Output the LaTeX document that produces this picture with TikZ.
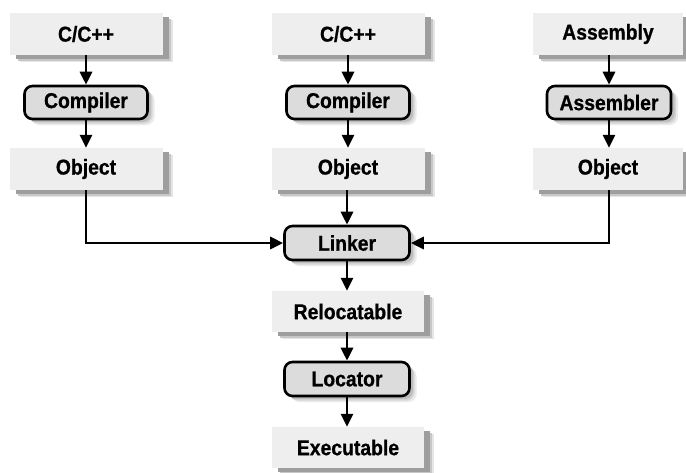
\documentclass[tikz,border=0pt]{standalone}
\usepackage{fontspec}
\newfontfamily\lblfont{Liberation Sans}[FakeStretch=0.9, BoldFeatures={FakeBold=0.8}]
\usetikzlibrary{arrows.meta,shadows}
\definecolor{boxfill}{HTML}{EEEEEE}
\definecolor{procfill}{HTML}{DCDCDC}
\tikzset{
  lbl/.style={font=\lblfont\bfseries\fontsize{21.5}{25}\selectfont, text=black},
  shad/.style={
    general shadow={fill=black!10, shadow xshift=10pt, shadow yshift=-7pt},
    general shadow={fill=black!22, shadow xshift=8pt, shadow yshift=-5.5pt},
    general shadow={fill=black!38, shadow xshift=6pt, shadow yshift=-4pt}},
  lshad/.style={
    general shadow={fill=black!8, shadow xshift=7pt, shadow yshift=-6pt},
    general shadow={fill=black!16, shadow xshift=5pt, shadow yshift=-4.5pt},
    general shadow={fill=black!26, shadow xshift=3.5pt, shadow yshift=-3pt}},
  databox/.style={lbl, shad, fill=boxfill, minimum width=153pt, minimum height=42pt, inner sep=0pt},
  procbox/.style={lbl, lshad, fill=procfill, draw=black, line width=2.6pt, rounded corners=8pt, minimum width=123pt, minimum height=33pt, inner sep=0pt},
  arr/.style={line width=2.8pt, -{Triangle[length=13pt,width=12pt]}}
}
\begin{document}
\begin{tikzpicture}[x=1pt,y=1pt]
\useasboundingbox (0,0) rectangle (686,-472);
\fill[white] (0,0) rectangle (686,-472);
% column 1
\node[databox] (c1) at (86,-34) {C/C++};
\node[procbox] (comp1) at (86,-102.5) {Compiler};
\node[databox] (obj1) at (86,-169) {Object};
% column 2
\node[databox] (c2) at (348,-34) {C/C++};
\node[procbox] (comp2) at (348,-102.5) {Compiler};
\node[databox] (obj2) at (348,-169) {Object};
% column 3
\node[databox, minimum width=150pt] (asm) at (608,-34) {Assembly};
\node[procbox, minimum width=124pt] (asmb) at (609,-102.5) {Assembler};
\node[databox, minimum width=150pt] (obj3) at (608,-169) {Object};
% centre chain
\node[procbox, minimum width=125pt, minimum height=34pt] (link) at (347,-243) {Linker};
\node[databox, minimum width=152pt, minimum height=41pt] (reloc) at (348,-311.5) {Relocatable};
\node[procbox, minimum width=125pt, minimum height=34pt] (loc) at (347,-379) {Locator};
\node[databox, minimum width=152pt, minimum height=41pt] (exe) at (348,-447.5) {Executable};
% arrows
\draw[arr] (c1) -- (comp1);
\draw[arr] (comp1) -- (obj1);
\draw[arr] (c2) -- (comp2);
\draw[arr] (comp2) -- (obj2);
\draw[arr] (asm.south -| asmb) -- (asmb);
\draw[arr] (asmb) -- (obj3.north -| asmb);
\draw[arr] (obj2.south -| link) -- (link);
\draw[arr] (obj1.south) |- (link.west);
\draw[arr] (obj3.south -| asmb) |- (link.east);
\draw[arr] (link) -- (reloc.north -| link);
\draw[arr] (reloc.south -| loc) -- (loc);
\draw[arr] (loc) -- (exe.north -| loc);
\end{tikzpicture}
\end{document}
